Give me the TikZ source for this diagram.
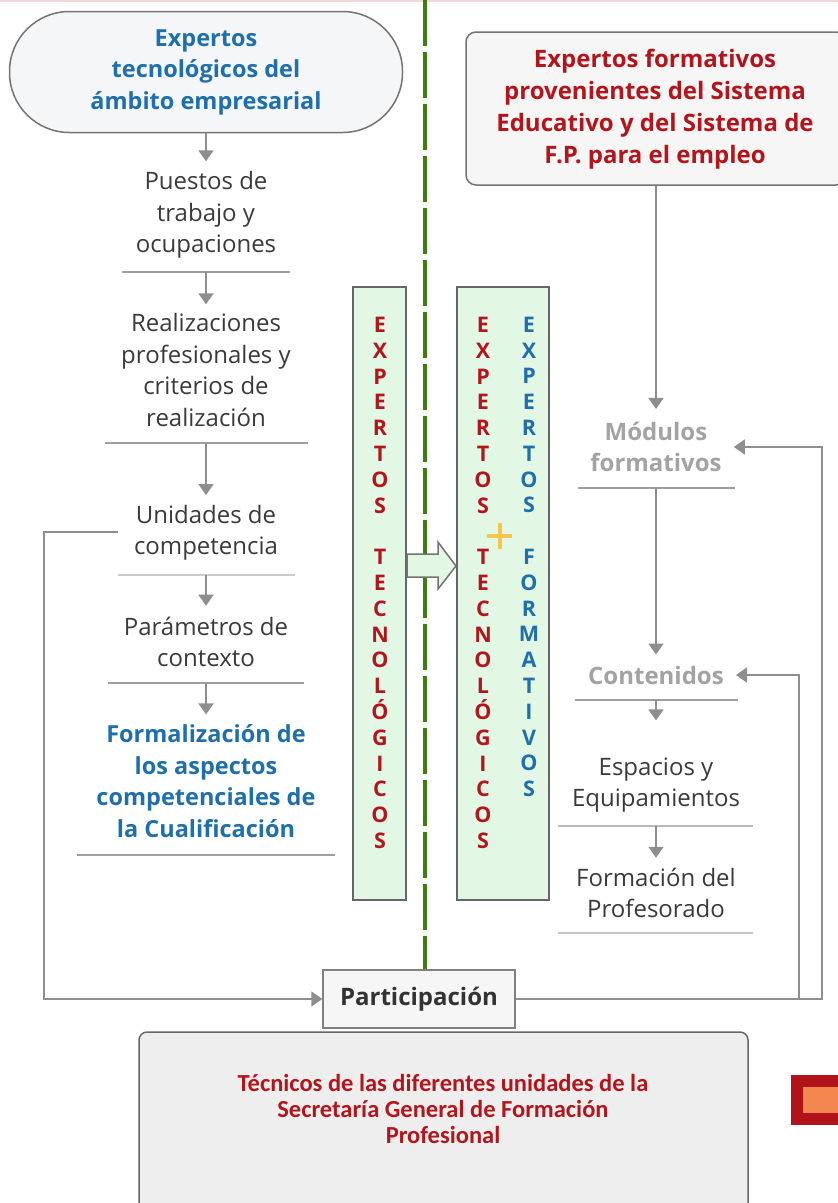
\documentclass[tikz,border=0pt]{standalone}
\usepackage{fontspec}
\setmainfont{Open Sans}
\newfontfamily\calib{Carlito}
\usetikzlibrary{arrows.meta}
\definecolor{txtblue}{HTML}{1F6FAD}
\definecolor{txtred}{HTML}{B2151B}
\definecolor{ggreen}{HTML}{3C7F0A}
\definecolor{lgreen}{HTML}{E2F7E4}
\definecolor{lgray}{HTML}{F6F6F6}
\definecolor{arrgray}{HTML}{7A7A7A}
\definecolor{txtdark}{HTML}{3A3A3A}
\definecolor{modgray}{HTML}{A3A3A3}
\definecolor{pinkline}{HTML}{F5D8DB}
\definecolor{plusyel}{HTML}{F9C54E}
\definecolor{stadfill}{HTML}{F4F6F8}
\definecolor{bottomfill}{HTML}{EEEEEE}
\definecolor{sqred}{HTML}{B0141A}
\definecolor{sqorange}{HTML}{F4874F}
\tikzset{
  plain/.style={align=center, text=txtdark, inner sep=0pt, font=\fontsize{24}{31.5}\selectfont},
  bluebold/.style={align=center, text=txtblue, inner sep=0pt, font=\fontsize{23.5}{31.5}\selectfont\bfseries},
  redbold/.style={align=center, text=txtred, inner sep=0pt, font=\fontsize{24}{32}\selectfont\bfseries},
  graybold/.style={align=center, text=modgray, inner sep=0pt, font=\fontsize{24}{31}\selectfont\bfseries},
  uline/.style={draw=gray!75, line width=1.2pt},
  conn/.style={draw=arrgray!85, line width=1.8pt, -{Triangle[width=15pt,length=11pt]}},
  gbox/.style={draw=black!60, line width=2pt, fill=lgreen, minimum height=613pt, inner sep=0pt},
  vlet/.style={align=center, inner sep=0pt, font=\fontsize{21.5}{25.8}\selectfont\bfseries},
}
\begin{document}
\begin{tikzpicture}[x=1pt,y=-1pt]
\useasboundingbox (0,0) rectangle (838,1203);
\fill[white] (0,0) rectangle (838,1203);
\draw[pinkline, line width=2.5pt] (0,1) -- (838,1);

% ---------- left column ----------
\node[draw=black!55, line width=1.5pt, fill=stadfill, rounded corners=60pt,
      minimum width=393pt, minimum height=121pt] (stad) at (206,72) {};
\node[bluebold] (stadt) at (206,72) {Expertos\\tecnológicos del\\ámbito empresarial};

\node[plain] (n1) at (206,215) {Puestos de\\trabajo y\\ocupaciones};
\coordinate (u1) at (206,272);
\draw[uline] (122,272) -- (290,272);

\node[plain] (n2) at (206,370) {Realizaciones\\profesionales y\\criterios de\\realización};
\coordinate (u2) at (206,443);
\draw[uline] (105,443) -- (308,443);

\node[plain] (n3) at (206,533) {Unidades de\\competencia};
\coordinate (u3) at (206,575);
\draw[uline, draw=gray!40] (118,575) -- (295,575);

\node[plain] (n4) at (206,642) {Parámetros de\\contexto};
\coordinate (u4) at (206,683);
\draw[uline] (108,683) -- (304,683);

\node[bluebold] (n5) at (206,781) {Formalización de\\los aspectos\\competenciales de\\la Cualificación};
\draw[uline] (77,855) -- (335,855);

\draw[conn, shorten >=10pt] (stad.south) -- (n1.north);
\draw[conn, shorten >=9pt] (u1) -- (n2.north);
\draw[conn, shorten >=10pt] (u2) -- (n3.north);
\draw[conn, shorten >=11pt] (u3) -- (n4.north);
\draw[conn, shorten >=10pt] (u4) -- (n5.north);

% ---------- green dashed divider & participation ----------
\node[draw=black!50, line width=1.3pt, fill=lgray, minimum width=192pt, minimum height=58pt,
      font=\fontsize{24}{28}\selectfont\bfseries, text=black!80] (P) at (419,999) {Participación};
\coordinate (dtop) at (425,0);
\draw[ggreen, line width=4.5pt, dash pattern=on 46pt off 6pt] (dtop) -- (dtop |- P.north);

% ---------- green boxes ----------
\node[gbox, minimum width=53pt] (gl) at (379.5,593.5) {};
\node[gbox, minimum width=92pt] (gr) at (503,593.5) {};
\node[vlet, text=txtred] (cl) at (380,583) {E\\X\\P\\E\\R\\T\\O\\S\\[25.8pt]T\\E\\C\\N\\O\\L\\Ó\\G\\I\\C\\O\\S};
\node[vlet, text=txtred] (cr1) at (483,583) {E\\X\\P\\E\\R\\T\\O\\S\\[25.8pt]T\\E\\C\\N\\O\\L\\Ó\\G\\I\\C\\O\\S};
\node[vlet, text=txtblue] (cr2) at (529,557) {E\\X\\P\\E\\R\\T\\O\\S\\[25.8pt]F\\O\\R\\M\\A\\T\\I\\V\\O\\S};
\draw[plusyel, line width=4pt] (487,536) -- (512,536) (499.5,523) -- (499.5,549);
\draw[draw=black!55, line width=1.5pt, fill=lgreen, line join=miter]
  (gl.east |- 0,554) -- (438,554) -- (438,542) -- (gr.west |- 0,566) -- (438,589) -- (438,577) -- (gl.east |- 0,577) -- cycle;

% ---------- right column ----------
\node[draw=black!55, line width=1.5pt, fill=lgray, rounded corners=10pt,
      minimum width=380pt, minimum height=153pt] (rt) at (656,108.5) {};
\node[redbold] (rtt) at (655,109) {Expertos formativos\\provenientes del Sistema\\Educativo y del Sistema de\\F.P. para el empleo};

\node[graybold] (m1) at (656,447) {Módulos\\formativos};
\coordinate (u6) at (656,488);
\draw[uline] (578,488) -- (735,488);

\node[graybold] (m2) at (656,675) {Contenidos};
\coordinate (u7) at (656,700);
\draw[uline] (575,700) -- (738,700);

\node[plain] (m3) at (656,785) {Espacios y\\Equipamientos};
\coordinate (u8) at (656,826);
\draw[uline, draw=gray!55] (558,826) -- (753,826);

\node[plain] (m4) at (656,893) {Formación del\\Profesorado};
\draw[uline, draw=gray!45] (558,933) -- (753,933);

\draw[conn, shorten >=13pt] (rt.south -| m1) -- (m1.north);
\draw[conn, shorten >=11pt] (u6) -- (m2.north);
\draw[conn, shorten >=37pt] (u7) -- (m3.north);
\draw[conn, shorten >=10pt] (u8) -- (m4.north);

% ---------- feedback connectors ----------
\coordinate (fbl) at (118,532);
\draw[conn] (fbl) -- (44,532) |- (P.west);
\coordinate (corner) at (822,999);
\coordinate (junc) at (799,999);
\draw[conn, shorten >=12pt] (P.east) -- (corner) |- (m1.east);
\draw[conn, shorten >=12pt] (junc) |- (m2.east);

% ---------- bottom box ----------
\node[draw=black!60, line width=1.5pt, fill=bottomfill, rounded corners=8pt,
      minimum width=609pt, minimum height=183pt] (B) at (443.5,1123.5) {};
\node[align=center, inner sep=0pt, text=txtred, font=\calib\fontsize{24.5}{26}\selectfont\bfseries] (Bt) at (443,1109)
  {Técnicos de las diferentes unidades de la\\Secretaría General de Formación\\Profesional};

% red square at right edge
\fill[sqred] (791,1075) rectangle (845,1125);
\fill[sqorange] (803,1087) rectangle (845,1113);
\end{tikzpicture}
\end{document}
